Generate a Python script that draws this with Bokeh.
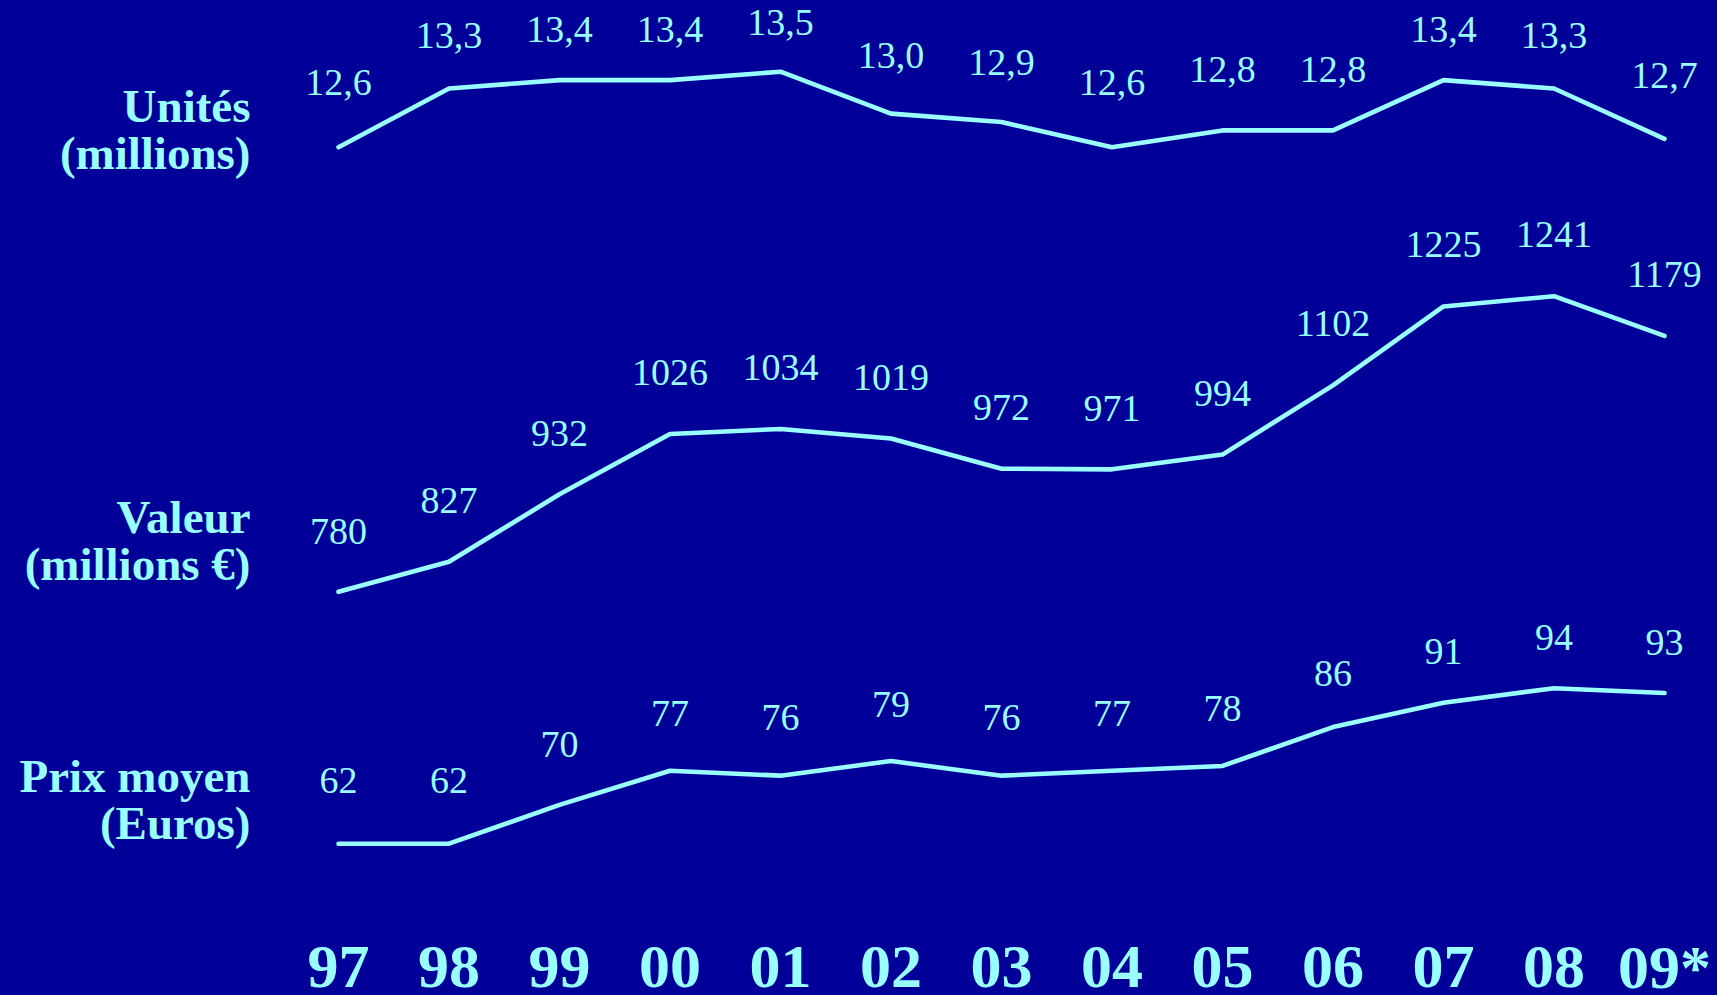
from bokeh.plotting import figure
from bokeh.models import Range1d, ColumnDataSource
from bokeh.core.properties import value
from bokeh.embed import file_html
from bokeh.resources import INLINE

# ---- data ----
years = ["97", "98", "99", "00", "01", "02", "03", "04", "05", "06", "07", "08", "09*"]
unites = [12.6, 13.3, 13.4, 13.4, 13.5, 13.0, 12.9, 12.6, 12.8, 12.8, 13.4, 13.3, 12.7]
valeur = [780, 827, 932, 1026, 1034, 1019, 972, 971, 994, 1102, 1225, 1241, 1179]
prix = [62, 62, 70, 77, 76, 79, 76, 77, 78, 86, 91, 94, 93]
series_names = ["Unités\n(millions)", "Valeur\n(millions €)", "Prix moyen\n(Euros)"]

# ---- layout ----
W, H = 1717, 995
BG = "#000099"
FG = "#99FFFF"
FONT = value("Liberation Serif")
x0, dx = 338.0, 110.5  # screen x of first year, spacing

idx = list(range(len(years)))

p = figure(width=W, height=H, output_backend="svg", toolbar_location=None,
           x_range=Range1d(-x0 / dx, (W - x0) / dx),
           y_range=Range1d(H, 0),
           min_border=0, min_border_left=0, min_border_right=0,
           min_border_top=0, min_border_bottom=0,
           x_axis_location=None, y_axis_location=None,
           background_fill_color=BG, border_fill_color=BG, outline_line_color=None)
p.grid.visible = False


def make_range(v1, f1, v2, f2):
    s = (v2 - v1) / (f2 - f1)
    return Range1d(start=v1 + s * (H - f1), end=v1 + s * (0 - f1))


p.extra_y_ranges = {
    # line scales
    "u": make_range(12.6, 146.7, 13.5, 71.2),
    "v": make_range(780, 591.3, 1241, 295.7),
    "p": make_range(62, 843.2, 94, 687.7),
    # value-label scales (labels sit above the lines on slightly compressed scales)
    "ul": make_range(12.6, 82.0, 13.5, 22.0),
    "vl": make_range(780, 530.5, 1241, 234.0),
    "pl": make_range(62, 779.6, 94, 637.3),
}

specs = [
    ("u", "ul", unites, [f"{v:.1f}".replace(".", ",") for v in unites]),
    ("v", "vl", valeur, [str(v) for v in valeur]),
    ("p", "pl", prix, [str(v) for v in prix]),
]

for rn, ln, vals, labels in specs:
    src = ColumnDataSource(dict(x=idx, y=vals, t=labels))
    p.line("x", "y", source=src, y_range_name=rn, line_color=FG, line_width=4.6,
           line_join="round", line_cap="round")
    p.text("x", "y", text="t", source=src, y_range_name=ln,
           text_align="center", text_baseline="middle", text_color=FG,
           text_font=FONT, text_font_size="38px")

# series names (left)
name_src = ColumnDataSource(dict(x=[(250 - x0) / dx] * 3, y=[129, 540, 799], t=series_names))
p.text("x", "y", text="t", source=name_src, text_align="right", text_baseline="middle",
       text_color=FG, text_font=FONT, text_font_size="47px", text_font_style="bold",
       text_line_height=0.9)

# year labels (bottom)
yr_src = ColumnDataSource(dict(x=idx, y=[966] * len(years), t=years))
p.text("x", "y", text="t", source=yr_src, text_align="center", text_baseline="middle",
       text_color=FG, text_font=FONT, text_font_size="62px", text_font_style="bold")

html = file_html(p, INLINE)
style = f"<style>html, body {{ margin: 0; padding: 0; background: {BG}; overflow: hidden; }}</style>"
html = html.replace("</head>", style + "</head>", 1)
open("out.html", "w").write(html)
